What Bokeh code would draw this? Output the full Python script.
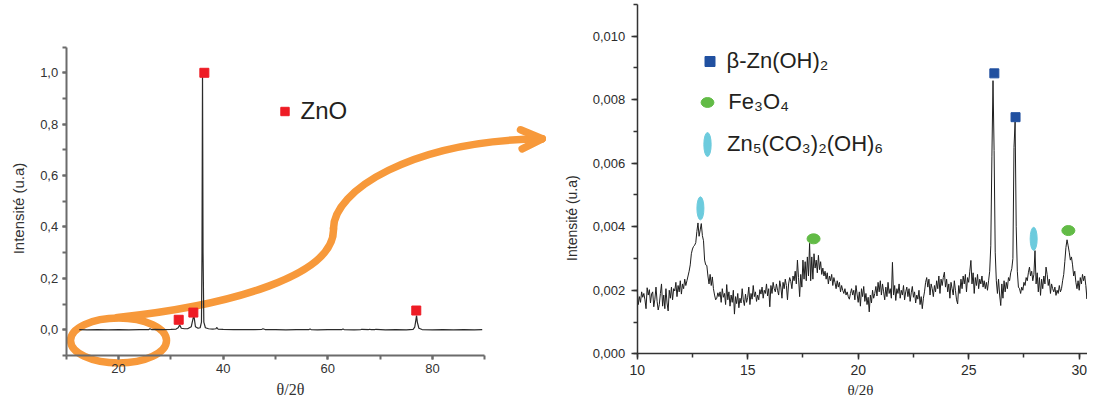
import math
from bokeh.plotting import figure
from bokeh.layouts import row
from bokeh.models import (ColumnDataSource, Range1d, SingleIntervalTicker,
                          CustomJSTickFormatter, Legend, LegendItem, Label)
from bokeh.embed import file_html
from bokeh.resources import INLINE

# ---------------- data : full pattern (left) ----------------
ZNO_2THETA = [12.5, 14.0, 16.0, 18.0, 20.0, 22.0, 24.0, 25.8, 26.0, 26.3, 27.0, 28.5,
              30.0, 31.0, 31.4, 31.7, 32.0, 32.6, 33.2, 33.9, 34.2, 34.4, 34.7, 35.2,
              35.6, 35.85, 35.95, 36.05, 36.15, 36.3, 36.6, 37.2, 38.0, 38.6, 38.8, 39.0,
              40.0, 42.0, 44.0, 46.0, 47.4, 47.6, 48.0, 50.0, 52.0, 54.0, 56.4, 56.6,
              56.8, 58.0, 60.0, 62.7, 62.9, 63.1, 65.0, 66.3, 66.5, 67.8, 68.0, 68.2,
              69.0, 69.2, 71.0, 73.0, 75.0, 76.3, 76.6, 76.8, 76.95, 77.1, 77.4, 78.0,
              80.0, 82.0, 84.0, 86.0, 88.0, 89.5]
ZNO_INT = [0.001, 0.000, 0.001, 0.000, 0.001, 0.000, 0.001, 0.001, 0.004, 0.001, 0.002, 0.001,
           0.002, 0.003, 0.008, 0.019, 0.006, 0.004, 0.004, 0.012, 0.040, 0.056, 0.012, 0.006,
           0.008, 0.030, 0.300, 1.000, 0.300, 0.030, 0.008, 0.004, 0.003, 0.004, 0.009, 0.003,
           0.002, 0.001, 0.001, 0.001, 0.002, 0.004, 0.001, 0.001, 0.000, 0.001, 0.001, 0.003,
           0.001, 0.000, 0.001, 0.001, 0.003, 0.001, 0.000, 0.001, 0.002, 0.001, 0.002, 0.001,
           0.001, 0.002, 0.000, 0.001, 0.000, 0.002, 0.010, 0.035, 0.055, 0.030, 0.006, 0.001,
           0.000, 0.001, 0.000, 0.001, 0.000, 0.001]
ZNO_MARK_2THETA = [31.5, 34.3, 36.4, 76.9]
ZNO_MARK_INT = [0.039, 0.067, 1.0, 0.075]

# ---------------- data : zoomed pattern (right) ----------------
ZOOM_START = 10.0      # first 2theta of the scan
ZOOM_STEP = 0.05       # scan step
ZOOM_INT_E3 = [        # intensity, units of 1e-3
    2.02, 1.55, 1.80, 1.62, 1.95, 1.78, 1.90, 1.70, 1.42, 2.08, 1.85, 2.02, 1.60, 1.88, 1.95, 1.48,
    1.72, 2.10, 1.65, 1.38, 1.55, 1.90, 2.20, 1.50, 1.85, 1.42, 2.05, 1.60, 1.35, 2.00, 1.75,
    2.10, 1.70, 2.05, 1.98, 2.25, 1.80, 2.15, 1.95, 2.30, 1.88, 2.20, 2.05, 2.35, 2.15, 2.30, 2.45,
    2.60, 2.80, 3.15, 3.30, 3.38, 3.42, 3.50, 3.85, 4.12, 3.70, 3.90, 4.10, 3.72, 3.56, 2.95, 2.80,
    2.78, 2.45, 2.20, 2.50, 2.15, 2.42, 2.05, 1.85,
    1.70, 1.75, 1.92, 1.80, 1.95, 1.62, 2.05, 1.78, 1.90, 1.55, 2.18, 1.70, 1.95, 1.50, 1.85, 1.62,
    2.00, 1.25, 1.80, 1.58, 1.90, 1.45, 1.75, 1.60, 2.05, 1.70, 1.52, 1.88, 1.62, 1.78, 2.10, 1.55,
    1.90, 1.72, 2.15, 1.80, 1.95, 1.65, 1.85, 1.70, 2.02, 1.88, 2.10, 1.75, 2.00, 1.90, 2.20, 1.82,
    2.05, 1.48,
    2.15, 1.90, 2.25, 2.05, 1.95, 2.20, 2.00, 1.85, 2.30, 2.10, 1.75, 2.25, 2.05, 2.35, 2.15, 1.70,
    2.20, 2.40, 2.28, 2.05,
    2.45, 2.30, 2.60, 2.20, 2.95, 2.40, 1.80, 2.50, 2.10, 2.95, 2.35, 2.90, 2.30, 3.05, 2.45, 3.48,
    2.30, 3.05, 2.35, 3.15, 2.70, 2.95, 2.55, 3.10, 2.65, 2.90, 2.50, 2.70,
    2.45, 2.60, 2.35, 2.55, 2.20, 2.45, 2.30, 2.50, 2.15, 2.40, 2.25, 2.05, 2.30, 2.10, 2.25, 1.95,
    2.15, 2.00, 1.90, 2.05, 1.85, 1.95,
    1.80, 1.72, 1.90, 2.05, 1.85, 2.00, 1.70, 2.15, 1.88, 1.62, 1.95, 1.50, 2.05, 1.80, 2.12, 1.65,
    1.90, 1.55, 1.78, 1.32, 1.85, 1.60, 2.00, 1.75, 1.90, 2.12, 1.82, 2.25, 1.95, 2.30,
    1.85, 2.20, 1.95, 1.70, 2.10, 1.80, 2.25, 1.90, 2.05, 1.75, 2.88, 1.85, 2.15, 1.68, 2.05, 1.90,
    2.20, 1.75, 2.00, 1.85, 2.15, 1.70, 1.95, 2.10, 1.80, 2.05, 1.65, 1.92, 2.12, 1.78, 1.95, 1.60,
    1.85, 1.72, 2.00, 1.55, 1.80, 1.42, 1.75, 1.95,
    2.25, 2.40, 2.10, 2.35, 1.85, 2.20, 2.05, 1.80, 2.15, 1.95, 2.30, 2.05, 2.45, 1.90, 2.35, 2.15,
    2.40, 2.57, 2.10, 2.35, 1.95, 2.20, 1.75, 2.25, 2.05, 1.85, 2.30, 2.00, 1.70, 1.57, 2.15, 1.90,
    2.35, 2.05, 2.45, 2.20, 2.50, 1.95, 2.40, 2.25,
    2.60, 2.94, 2.20, 2.55, 1.90, 2.40, 2.15, 2.50, 2.05, 2.35, 2.20, 2.45, 2.10, 2.30, 2.05, 2.25,
    2.00, 2.30, 2.60,
    3.40, 6.20, 8.60, 6.40, 3.20, 2.30, 1.90,
    2.35, 1.85, 1.52, 2.20, 1.75, 2.30, 1.95, 2.25, 2.05, 2.40, 2.30, 2.55, 2.68,
    3.00, 6.50, 7.30, 4.00, 2.60, 2.10,
    2.05, 1.90, 2.10, 2.00, 2.25, 2.15, 2.40, 2.30, 2.55, 2.73, 2.45, 2.60, 2.30, 2.50, 3.25, 2.20,
    2.55, 1.95, 2.40, 1.84, 2.35,
    2.05, 2.45, 2.20, 2.73, 2.50, 2.15, 2.35, 1.90, 2.20, 2.05, 1.95, 2.10, 1.84, 2.00, 1.90, 2.15,
    1.95, 2.05, 2.30, 2.50,
    2.90, 3.35, 3.59, 3.40, 3.20, 2.95, 3.05, 2.80, 2.45, 2.60, 2.25, 2.05, 2.30, 2.00, 2.40, 2.20,
    2.50, 2.30, 2.45, 2.15, 1.73,
    2.60, 3.15, 2.70, 3.25, 2.90, 3.10, 2.95,
]
BZN_2THETA = [26.16, 27.12]          # beta-Zn(OH)2
BZN_INT = [0.00883, 0.00745]
FE_2THETA = [17.98, 29.51]           # Fe3O4
FE_INT = [0.00362, 0.00388]
ZNC_2THETA = [12.86, 27.94]          # Zn5(CO3)2(OH)6
ZNC_INT = [0.00458, 0.00362]

# orange arrow (decoration, in left-plot data coordinates)
ARROW_LOOP = dict(x=[20.0], y=[-0.0416])
ARROW_CURVE = dict(x0=[19.80, 61.08], y0=[0.0479, 0.3942],
                   cx0=[41.40, 61.08], cy0=[0.0946, 0.5397],
                   cx1=[61.46, 75.80], cy1=[0.2113, 0.7366],
                   x1=[61.08, 100.96], y1=[0.3942, 0.7432])
ARROW_HEAD = dict(x0=[100.96, 100.96], y0=[0.7432, 0.7432],
                  x1=[96.82, 97.14], y1=[0.7782, 0.7043])

FONT = "Liberation Sans"
ORANGE = "#F7993B"
RED = "#EE1C25"
BLUE = "#2150A0"
GREEN = "#62BB46"
CYAN = "#6CCBDD"
TXT = "#231f20"

zoom_x = [round(ZOOM_START + ZOOM_STEP * i, 2) for i in range(len(ZOOM_INT_E3))]
zoom_y = [v * 1e-3 for v in ZOOM_INT_E3]


def style_axis(ax, color, width, tick_out, minor_out, size, lab_color, standoff):
    ax.axis_line_color = color
    ax.axis_line_width = width
    ax.major_tick_line_color = color
    ax.minor_tick_line_color = color
    ax.major_tick_line_width = width
    ax.minor_tick_line_width = width
    ax.major_tick_in = 0
    ax.minor_tick_in = 0
    ax.major_tick_out = tick_out
    ax.minor_tick_out = minor_out
    ax.major_label_text_font = FONT
    ax.major_label_text_font_size = size
    ax.major_label_text_color = lab_color
    ax.major_label_standoff = standoff


def base_fig(w, xr, yr):
    p = figure(width=w, height=400, x_range=xr, y_range=yr, output_backend="svg",
               toolbar_location=None, min_border=0)
    p.min_border_left = 0
    p.min_border_right = 0
    p.min_border_top = 0
    p.min_border_bottom = 0
    p.outline_line_color = None
    p.xgrid.visible = False
    p.ygrid.visible = False
    p.background_fill_color = "white"
    p.border_fill_color = "white"
    return p


# ================= left: full pattern =================
p1 = base_fig(560, Range1d(-2.555, 104.46), Range1d(-0.2751, 1.2813))

# arrow / loop first (below data)
p1.ellipse(x=ARROW_LOOP["x"], y=ARROW_LOOP["y"], width=96, height=45,
           width_units="screen", height_units="screen",
           fill_color=None, line_color=ORANGE, line_width=7.5)
p1.bezier(source=ColumnDataSource(ARROW_CURVE), x0="x0", y0="y0", x1="x1", y1="y1",
          cx0="cx0", cy0="cy0", cx1="cx1", cy1="cy1",
          line_color=ORANGE, line_width=7.5, line_cap="round")
p1.segment(source=ColumnDataSource(ARROW_HEAD), x0="x0", y0="y0", x1="x1", y1="y1",
           line_color=ORANGE, line_width=7.5, line_cap="round")

p1.line(ZNO_2THETA, ZNO_INT, line_color="#2b2b2b", line_width=1.2)
r_zno = p1.scatter(ZNO_MARK_2THETA, ZNO_MARK_INT, marker="square", size=9,
                   fill_color=RED, line_color=RED)

xa = p1.xaxis[0]
xa.fixed_location = -0.1
xa.bounds = (10, 90)
xa.ticker = SingleIntervalTicker(interval=20, num_minor_ticks=2)
xa.formatter = CustomJSTickFormatter(code="return tick.toFixed(0)")
style_axis(xa, "#6b6b6b", 2, 4, 4, "13px", "#333333", 5)

ya = p1.yaxis[0]
ya.fixed_location = 10
ya.bounds = (-0.1001, 1.1001)
ya.ticker = SingleIntervalTicker(interval=0.2, num_minor_ticks=2)
ya.formatter = CustomJSTickFormatter(code="return tick.toFixed(1).replace('.', ',')")
style_axis(ya, "#6b6b6b", 2, 4, 4, "13px", "#333333", 4)

p1.add_layout(Label(x=0.885, y=0.472, text="Intensité (u.a)", angle=math.pi / 2,
                    text_align="center", text_baseline="middle", text_font=FONT,
                    text_font_size="15px", text_color="#333333"))
p1.add_layout(Label(x=52.86, y=-0.2323, text="θ/2θ", text_align="center",
                    text_baseline="middle", text_font="Liberation Serif",
                    text_font_size="16px", text_color="#333333"))

leg1 = Legend(items=[LegendItem(label="ZnO", renderers=[r_zno])], location=(273.5, 275.3),
              padding=0, margin=0, spacing=0, glyph_width=21, glyph_height=28,
              label_standoff=6, label_text_font=FONT, label_text_font_size="24px",
              label_text_color=TXT, background_fill_alpha=0, border_line_alpha=0)
p1.add_layout(leg1)

# ================= right: zoomed pattern =================
p2 = base_fig(527, Range1d(6.529, 30.376), Range1d(-0.0014704, 0.011124))

p2.line(zoom_x, zoom_y, line_color="#1e1e1e", line_width=1)
r_bzn = p2.scatter(BZN_2THETA, BZN_INT, marker="square", size=9,
                   fill_color=BLUE, line_color=BLUE)
r_fe = p2.ellipse(FE_2THETA, FE_INT, width=13, height=10, width_units="screen",
                  height_units="screen", fill_color=GREEN, line_color=GREEN)
r_znc = p2.ellipse(ZNC_2THETA, ZNC_INT, width=7, height=23, width_units="screen",
                   height_units="screen", fill_color=CYAN, line_color=CYAN)

xb = p2.xaxis[0]
xb.fixed_location = 0
xb.bounds = (10, 30.376)
xb.ticker = SingleIntervalTicker(interval=5, num_minor_ticks=2)
xb.formatter = CustomJSTickFormatter(code="return tick.toFixed(0)")
style_axis(xb, "#333333", 1.5, 6, 4, "14px", "#2b2b2b", 5)

yb = p2.yaxis[0]
yb.fixed_location = 10
yb.bounds = (-0.0000001, 0.0110001)
yb.ticker = SingleIntervalTicker(interval=0.002, num_minor_ticks=2)
yb.formatter = CustomJSTickFormatter(code="return tick.toFixed(3).replace('.', ',')")
style_axis(yb, "#333333", 1.5, 6, 4, "13px", "#2b2b2b", 6)

p2.add_layout(Label(x=7.027, y=0.004273, text="Intensité (u.a)", angle=math.pi / 2,
                    text_align="center", text_baseline="middle", text_font=FONT,
                    text_font_size="14px", text_color="#2b2b2b"))
p2.add_layout(Label(x=20.1, y=-0.0011555, text="θ/2θ", text_align="center",
                    text_baseline="middle", text_font="Liberation Serif",
                    text_font_size="15px", text_color="#2b2b2b"))

common = dict(padding=0, margin=0, spacing=0, label_text_font=FONT,
              label_text_font_size="22px", label_text_color=TXT,
              background_fill_alpha=0, border_line_alpha=0)
p2.add_layout(Legend(items=[LegendItem(label="β-Zn(OH)₂", renderers=[r_bzn])],
                     location=(136.5, 325.7), glyph_width=25, glyph_height=26,
                     label_standoff=5, **common))
p2.add_layout(Legend(items=[LegendItem(label="Fe₃O₄", renderers=[r_fe])],
                     location=(139.3, 284.7), glyph_width=16, glyph_height=26,
                     label_standoff=13, **common))
p2.add_layout(Legend(items=[LegendItem(label="Zn₅(CO₃)₂(OH)₆", renderers=[r_znc])],
                     location=(132, 241.3), glyph_width=30, glyph_height=30,
                     label_standoff=5, **common))

layout = row(p1, p2)
open("out.html", "w").write(file_html(layout, INLINE))
